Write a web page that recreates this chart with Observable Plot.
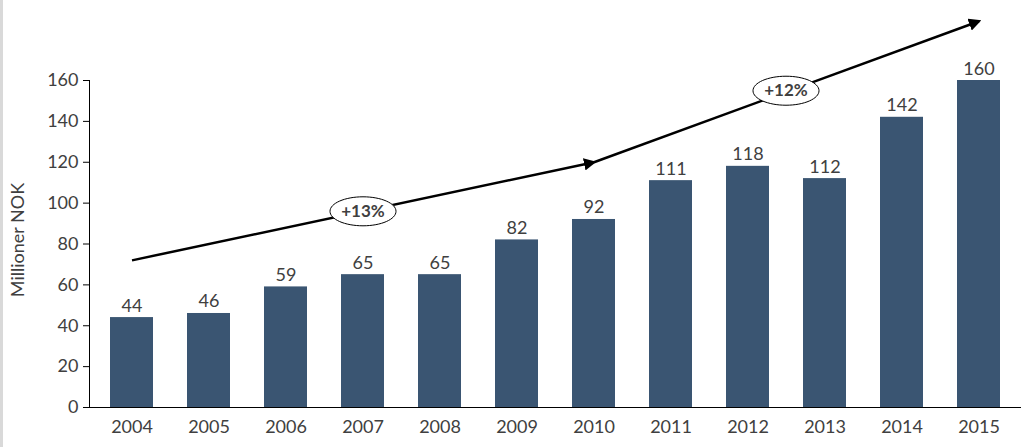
<!DOCTYPE html>
<html>
<head>
<meta charset="utf-8">
<script src="https://cdn.jsdelivr.net/npm/d3@7"></script>
<script src="https://cdn.jsdelivr.net/npm/@observablehq/plot@0.6"></script>
<style>
  html, body { margin: 0; padding: 0; background: #fff; }
  body { width: 1024px; height: 447px; overflow: hidden; }
  #wrap { border-left: 3px solid #d9d9d9; box-sizing: border-box; width: 1024px; height: 447px; }
</style>
</head>
<body>
<div id="wrap"></div>
<script>
const years = ["2004","2005","2006","2007","2008","2009","2010","2011","2012","2013","2014","2015"];
const values = [44, 46, 59, 65, 65, 82, 92, 111, 118, 112, 142, 160];
const yTicks = [0, 20, 40, 60, 80, 100, 120, 140, 160];

// Growth arrows (from year, value) -> (to year, value)
const arrowFrom = ["2004", "2010"];
const arrowFromY = [72, 120];
const arrowTo = ["2010", "2015"];
const arrowToY = [120, 189];
const growthLabels = ["+13%", "+12%"];
const growthLabelX = ["2007", "2012"];
const growthLabelY = [96, 155];
const growthLabelShift = [0, 38]; // pixel offset between bands

const data = years.map((y, i) => ({year: y, value: values[i]}));
const arrows = arrowFrom.map((f, i) => ({x1: f, y1: arrowFromY[i], x2: arrowTo[i], y2: arrowToY[i]}));
const labels = growthLabels.map((t, i) => ({text: t, x: growthLabelX[i], y: growthLabelY[i]}));

const ellipse = {
  draw(ctx, size) {
    const rx = 33, ry = 14.5, k = 0.5523;
    ctx.moveTo(rx, 0);
    ctx.bezierCurveTo(rx, ry * k, rx * k, ry, 0, ry);
    ctx.bezierCurveTo(-rx * k, ry, -rx, ry * k, -rx, 0);
    ctx.bezierCurveTo(-rx, -ry * k, -rx * k, -ry, 0, -ry);
    ctx.bezierCurveTo(rx * k, -ry, rx, -ry * k, rx, 0);
    ctx.closePath();
  }
};

const font = "Lato, 'Open Sans', sans-serif";
const grey = "#404040";

const labelMarks = labels.flatMap((l, i) => [
  Plot.dot([l], {x: "x", y: "y", dx: growthLabelShift[i], symbol: ellipse, fill: "#fff", stroke: "#000", strokeWidth: 1, r: 5}),
  Plot.text([l], {x: "x", y: "y", dx: growthLabelShift[i], text: "text", fill: grey, fontWeight: "bold", fontSize: 17})
]);

const chart = Plot.plot({
  width: 1021,
  height: 447,
  marginLeft: 86,
  marginRight: 3,
  marginTop: 80,
  marginBottom: 40,
  style: {fontFamily: font, fontSize: "18px", color: grey, background: "#fff"},
  x: {domain: years, paddingInner: 0.44, paddingOuter: 0.22, label: null},
  y: {domain: [0, 160], label: null},
  marks: [
    Plot.barY(data, {x: "year", y: "value", fill: "#3A5572"}),
    Plot.text(data, {x: "year", y: "value", text: d => String(d.value), dy: -6, lineAnchor: "bottom", fill: grey, fontSize: 18}),
    Plot.axisX({tickSize: 0, tickPadding: 13, fill: grey, fontSize: 18, label: null}),
    Plot.axisY({ticks: yTicks, tickSize: 6, tickPadding: 5, fill: grey, fontSize: 18, stroke: "#000", label: null}),
    Plot.ruleY([0], {stroke: "#000", strokeWidth: 1}),
    Plot.frame({anchor: "left", stroke: "#000"}),
    Plot.link(arrows, {x1: "x1", y1: "y1", x2: "x2", y2: "y2", stroke: "#000", strokeWidth: 2.5, className: "growth"}),
    ...labelMarks
  ]
});

const wrap = document.getElementById("wrap");
wrap.appendChild(chart);
const svg = d3.select(chart);

// filled arrowhead marker
const defs = svg.insert("defs", ":first-child");
defs.append("marker")
  .attr("id", "ah")
  .attr("viewBox", "0 -5 10 10")
  .attr("refX", 8)
  .attr("refY", 0)
  .attr("markerWidth", 5)
  .attr("markerHeight", 5)
  .attr("markerUnits", "strokeWidth")
  .attr("orient", "auto")
  .append("path")
  .attr("d", "M0,-5L10,0L0,5Z")
  .attr("fill", "#000");
svg.selectAll("g.growth path").attr("marker-end", "url(#ah)");

// y-axis title
svg.append("text")
  .attr("transform", "translate(16,240) rotate(-90)")
  .attr("text-anchor", "middle")
  .attr("dominant-baseline", "middle")
  .attr("fill", grey)
  .style("font-family", font)
  .style("font-size", "18px")
  .text("Millioner NOK");
</script>
</body>
</html>
